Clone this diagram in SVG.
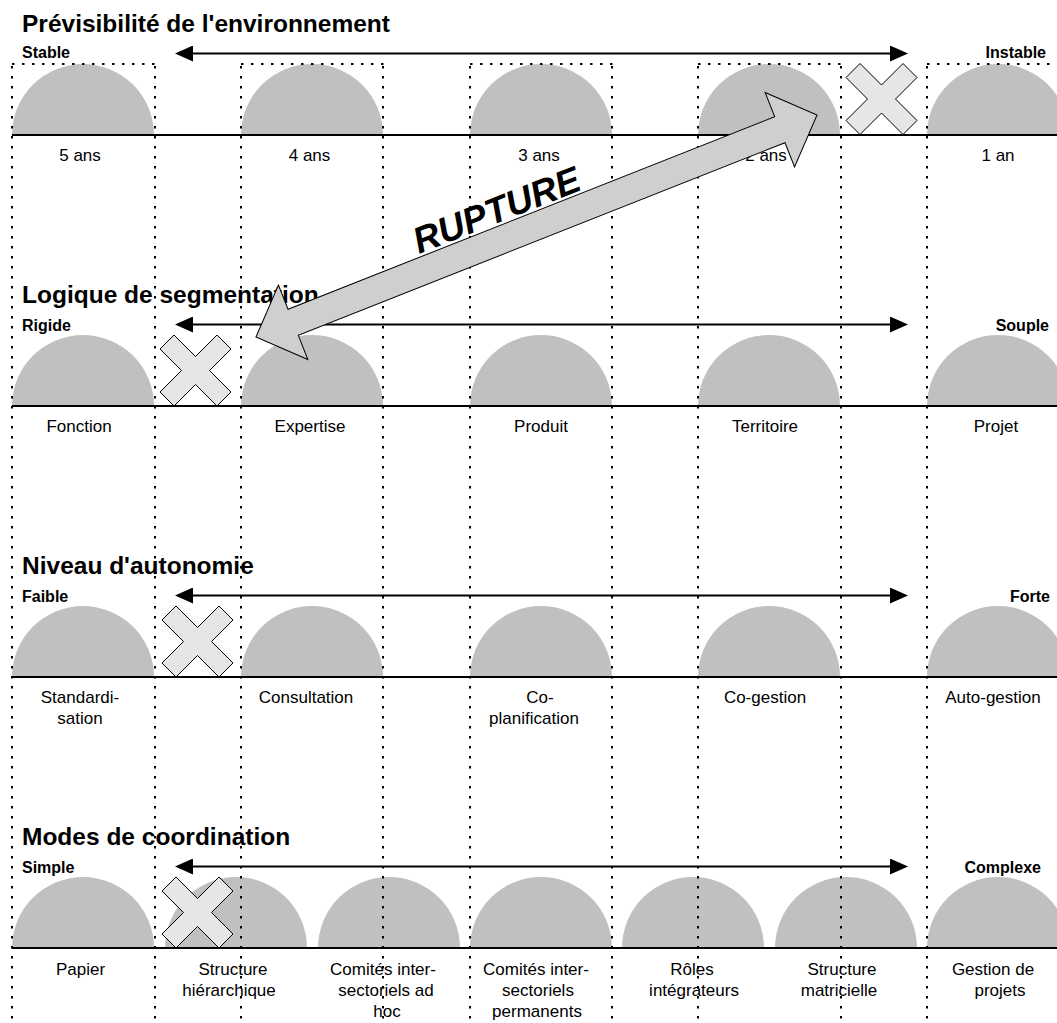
<svg xmlns="http://www.w3.org/2000/svg" width="1057" height="1023" viewBox="0 0 1057 1023">
  <style>
    .title { font-family: "Liberation Sans", Arial, sans-serif; font-weight: bold; font-size: 24.5px; fill: #000; }
    .pole { font-family: "Liberation Sans", Arial, sans-serif; font-weight: bold; font-size: 16px; fill: #000; }
    .lbl { font-family: "Liberation Sans", Arial, sans-serif; font-size: 17px; fill: #000; text-anchor: middle; }
    .dome { fill: #c0c0c0; stroke: none; }
    .base { stroke: #000; stroke-width: 2; fill: none; }
    .dots { stroke: #000; stroke-width: 2; stroke-dasharray: 2.5 7.5; fill: none; }
    .scale { stroke: #000; stroke-width: 2; fill: none; marker-start: url(#head); marker-end: url(#head); }
    .cross { fill: #e6e6e6; stroke: #000; stroke-width: 1; }
    .rupture { fill: #cfcfcf; stroke: #000; stroke-width: 1; stroke-linejoin: miter; }
    .rtext { font-family: "Liberation Sans", Arial, sans-serif; font-weight: bold; font-style: italic; font-size: 36.5px; fill: #000; }
  </style>
  <defs>
    <marker id="head" markerUnits="userSpaceOnUse" markerWidth="18" markerHeight="16" refX="8" refY="8" orient="auto-start-reverse" viewBox="0 0 18 16">
      <path d="M0,0 L18,8 L0,16 z" fill="#000"/>
    </marker>
    <!-- rotated cross, half-size 35.5 -->
    <polygon id="xmark" class="cross" points="-35.5,-21.5 -21.5,-35.5 0,-14 21.5,-35.5 35.5,-21.5 14,0 35.5,21.5 21.5,35.5 0,14 -21.5,35.5 -35.5,21.5 -14,0"/>
  </defs>

  <!-- Section 1: Prévisibilité de l'environnement -->
  <g id="section-previsibilite">
    <g id="domes-1">
      <path class="dome" d="M12,135 A71,71 0 0 1 154,135 Z"/>
      <path class="dome" d="M241,135 A71,71 0 0 1 383,135 Z"/>
      <path class="dome" d="M470,135 A71,71 0 0 1 612,135 Z"/>
      <path class="dome" d="M698,135 A71,71 0 0 1 840,135 Z"/>
      <path class="dome" d="M927,135 A71,71 0 0 1 1069,135 Z"/>
    </g>
    <line class="base" x1="12" y1="135" x2="1057" y2="135"/>
    <g id="box-tops-1">
      <line class="dots" x1="12" y1="64" x2="155" y2="64"/>
      <line class="dots" x1="241" y1="64" x2="384" y2="64"/>
      <line class="dots" x1="470" y1="64" x2="613" y2="64"/>
      <line class="dots" x1="698" y1="64" x2="841" y2="64"/>
      <line class="dots" x1="927" y1="64" x2="1057" y2="64"/>
    </g>
  </g>

  <!-- Section 2: Logique de segmentation -->
  <g id="section-segmentation">
    <path class="dome" d="M12,406 A71,71 0 0 1 154,406 Z"/>
    <path class="dome" d="M241,406 A71,71 0 0 1 383,406 Z"/>
    <path class="dome" d="M470,406 A71,71 0 0 1 612,406 Z"/>
    <path class="dome" d="M698,406 A71,71 0 0 1 840,406 Z"/>
    <path class="dome" d="M927,406 A71,71 0 0 1 1069,406 Z"/>
    <line class="base" x1="12" y1="406" x2="1057" y2="406"/>
  </g>

  <!-- Section 3: Niveau d'autonomie -->
  <g id="section-autonomie">
    <path class="dome" d="M12,677 A71,71 0 0 1 154,677 Z"/>
    <path class="dome" d="M241,677 A71,71 0 0 1 383,677 Z"/>
    <path class="dome" d="M470,677 A71,71 0 0 1 612,677 Z"/>
    <path class="dome" d="M698,677 A71,71 0 0 1 840,677 Z"/>
    <path class="dome" d="M927,677 A71,71 0 0 1 1069,677 Z"/>
    <line class="base" x1="12" y1="677" x2="1057" y2="677"/>
  </g>

  <!-- Section 4: Modes de coordination -->
  <g id="section-coordination">
    <path class="dome" d="M12,948 A71,71 0 0 1 154,948 Z"/>
    <path class="dome" d="M165,948 A71,71 0 0 1 307,948 Z"/>
    <path class="dome" d="M318,948 A71,71 0 0 1 460,948 Z"/>
    <path class="dome" d="M470,948 A71,71 0 0 1 612,948 Z"/>
    <path class="dome" d="M622,948 A71,71 0 0 1 764,948 Z"/>
    <path class="dome" d="M775,948 A71,71 0 0 1 917,948 Z"/>
    <path class="dome" d="M927,948 A71,71 0 0 1 1069,948 Z"/>
    <line class="base" x1="12" y1="948" x2="1057" y2="948"/>
  </g>

  <!-- column guides running down the page -->
  <g id="guides">
    <line class="dots" x1="12" y1="64" x2="12" y2="1023" stroke-dashoffset="8"/>
    <line class="dots" x1="155" y1="64" x2="155" y2="1023" stroke-dashoffset="8"/>
    <line class="dots" x1="241" y1="64" x2="241" y2="1023" stroke-dashoffset="8"/>
    <line class="dots" x1="383" y1="64" x2="383" y2="1023" stroke-dashoffset="8"/>
    <line class="dots" x1="470" y1="64" x2="470" y2="1023" stroke-dashoffset="8"/>
    <line class="dots" x1="612" y1="64" x2="612" y2="1023" stroke-dashoffset="8"/>
    <line class="dots" x1="698" y1="64" x2="698" y2="1023" stroke-dashoffset="8"/>
    <line class="dots" x1="841" y1="64" x2="841" y2="1023" stroke-dashoffset="8"/>
    <line class="dots" x1="927" y1="64" x2="927" y2="1023" stroke-dashoffset="8"/>
  </g>

  <!-- labels -->
  <g id="labels-1">
    <text class="lbl" x="80" y="161">5 ans</text>
    <text class="lbl" x="309.5" y="161">4 ans</text>
    <text class="lbl" x="539" y="161">3 ans</text>
    <text class="lbl" x="766" y="161">2 ans</text>
    <text class="lbl" x="998" y="161">1 an</text>
  </g>
  <g id="labels-2">
    <text class="lbl" x="79" y="432">Fonction</text>
    <text class="lbl" x="310" y="432">Expertise</text>
    <text class="lbl" x="541" y="432">Produit</text>
    <text class="lbl" x="765" y="432">Territoire</text>
    <text class="lbl" x="996" y="432">Projet</text>
  </g>
  <g id="labels-3">
    <text class="lbl" x="80" y="703">Standardi-</text>
    <text class="lbl" x="80" y="724">sation</text>
    <text class="lbl" x="306" y="703">Consultation</text>
    <text class="lbl" x="540" y="703">Co-</text>
    <text class="lbl" x="534" y="724">planification</text>
    <text class="lbl" x="765" y="703">Co-gestion</text>
    <text class="lbl" x="993" y="703">Auto-gestion</text>
  </g>
  <g id="labels-4">
    <text class="lbl" x="80.5" y="975">Papier</text>
    <text class="lbl" x="233" y="975">Structure</text>
    <text class="lbl" x="229" y="996">hiérarchique</text>
    <text class="lbl" x="383" y="975">Comités inter-</text>
    <text class="lbl" x="386" y="996">sectoriels ad</text>
    <text class="lbl" x="387" y="1017">hoc</text>
    <text class="lbl" x="536" y="975">Comités inter-</text>
    <text class="lbl" x="538" y="996">sectoriels</text>
    <text class="lbl" x="537" y="1017">permanents</text>
    <text class="lbl" x="692" y="975">Rôles</text>
    <text class="lbl" x="694" y="996">intégrateurs</text>
    <text class="lbl" x="842" y="975">Structure</text>
    <text class="lbl" x="839" y="996">matricielle</text>
    <text class="lbl" x="993" y="975">Gestion de</text>
    <text class="lbl" x="1000" y="996">projets</text>
  </g>

  <!-- headings and scale poles -->
  <g id="headings">
    <text class="title" x="22" y="31.5">Prévisibilité de l'environnement</text>
    <text class="title" x="22" y="303">Logique de segmentation</text>
    <text class="title" x="22" y="574">Niveau d'autonomie</text>
    <text class="title" x="22" y="845">Modes de coordination</text>
  </g>
  <g id="poles">
    <text class="pole" x="22" y="58">Stable</text>
    <text class="pole" x="1046" y="58" text-anchor="end">Instable</text>
    <text class="pole" x="22" y="331">Rigide</text>
    <text class="pole" x="1049" y="331" text-anchor="end">Souple</text>
    <text class="pole" x="22" y="602">Faible</text>
    <text class="pole" x="1050" y="602" text-anchor="end">Forte</text>
    <text class="pole" x="22" y="873">Simple</text>
    <text class="pole" x="1041" y="873" text-anchor="end">Complexe</text>
  </g>

  <!-- connectors: two-headed scale arrows -->
  <g id="connectors">
    <line class="scale" x1="185" y1="53.5" x2="898" y2="53.5"/>
    <line class="scale" x1="185" y1="324.5" x2="898" y2="324.5"/>
    <line class="scale" x1="185" y1="595.5" x2="898" y2="595.5"/>
    <line class="scale" x1="185" y1="866.5" x2="898" y2="866.5"/>
  </g>

  <!-- excluded positions -->
  <g id="crosses">
    <use href="#xmark" x="881.5" y="99"/>
    <use href="#xmark" x="195.5" y="370.5"/>
    <use href="#xmark" x="197.5" y="641.5"/>
    <use href="#xmark" x="197.5" y="912.5"/>
  </g>

  <!-- rupture arrow -->
  <g id="rupture">
    <polygon class="rupture" transform="translate(536.5,226) rotate(-21.59)" points="-301.7,0 -261.7,-40 -261.7,-14 261.7,-14 261.7,-40 301.7,0 261.7,40 261.7,14 -261.7,14 -261.7,40"/>
    <text class="rtext" transform="translate(419,254) rotate(-21.5)">RUPTURE</text>
  </g>
</svg>
